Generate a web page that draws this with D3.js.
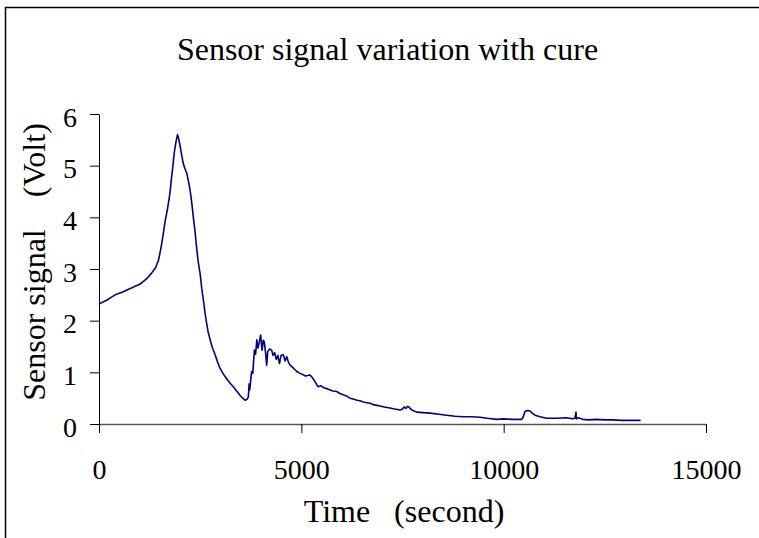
<!DOCTYPE html>
<html>
<head>
<meta charset="utf-8">
<script src="https://cdn.jsdelivr.net/npm/d3@7"></script>
<style>
  body { margin: 0; background: #fff; }
  text { font-family: "Liberation Serif", "Times New Roman", serif; fill: #000; }
</style>
</head>
<body>
<script>
// readings taken off the trace (seconds, volts)
var time = [0, 100, 200, 300, 400, 500, 600, 700, 800, 900, 1000, 1100, 1200, 1300, 1400, 1470, 1530, 1590, 1640, 1690,
  1750, 1790, 1820, 1860, 1900, 1940, 1960, 2000, 2040, 2080, 2120, 2170, 2210, 2250, 2290, 2330, 2370, 2410, 2450, 2500,
  2540, 2580, 2620, 2660, 2700, 2750, 2800, 2870, 2930, 2990, 3070, 3150, 3230, 3320, 3400, 3480, 3550, 3610, 3660, 3690,
  3710, 3725, 3770, 3800, 3840, 3870, 3900, 3930, 3960, 3995, 4030, 4060, 4085, 4120, 4143, 4170, 4210, 4267, 4300, 4340,
  4380, 4420, 4460, 4500, 4554, 4600, 4640, 4680, 4720, 4780, 4843, 4900, 4967, 5030, 5100, 5160, 5214, 5270, 5330, 5380,
  5419, 5480, 5560, 5640, 5708, 5780, 5873, 5955, 6050, 6120, 6203, 6300, 6380, 6450, 6550, 6620, 6697, 6800, 6880, 6944,
  7050, 7120, 7191, 7300, 7380, 7438, 7500, 7540, 7580, 7620, 7660, 7700, 7760, 7850, 8000, 8180, 8400, 8592, 8800, 9004,
  9200, 9415, 9600, 9827, 10000, 10200, 10445, 10490, 10527, 10590, 10651, 10710, 10774, 10900, 11062, 11300, 11550, 11700, 11760, 11787,
  11800, 11850, 11950, 12100, 12300, 12500, 12700, 12900, 13100, 13385];
var signal = [2.32, 2.36, 2.40, 2.45, 2.50, 2.53, 2.56, 2.60, 2.63, 2.67, 2.70, 2.76, 2.83, 2.92, 3.03, 3.17, 3.40, 3.69, 3.95, 4.15,
  4.45, 4.75, 4.95, 5.25, 5.45, 5.60, 5.55, 5.40, 5.22, 5.05, 4.95, 4.85, 4.70, 4.53, 4.30, 4.01, 3.75, 3.43, 3.15, 2.90,
  2.62, 2.40, 2.15, 1.95, 1.77, 1.62, 1.48, 1.34, 1.20, 1.08, 0.97, 0.88, 0.80, 0.72, 0.64, 0.56, 0.50, 0.46, 0.48, 0.52,
  0.78, 0.66, 1.01, 0.98, 1.43, 1.35, 1.63, 1.47, 1.58, 1.72, 1.43, 1.62, 1.59, 1.35, 1.14, 1.40, 1.45, 1.43, 1.33, 1.38,
  1.25, 1.33, 1.17, 1.33, 1.34, 1.22, 1.30, 1.20, 1.14, 1.10, 1.05, 1.01, 0.98, 0.96, 0.93, 0.94, 0.95, 0.90, 0.83, 0.76,
  0.72, 0.74, 0.70, 0.68, 0.66, 0.64, 0.63, 0.59, 0.56, 0.54, 0.50, 0.48, 0.46, 0.45, 0.42, 0.41, 0.40, 0.37, 0.36, 0.35,
  0.33, 0.32, 0.31, 0.29, 0.28, 0.27, 0.29, 0.33, 0.30, 0.34, 0.33, 0.29, 0.26, 0.23, 0.22, 0.21, 0.19, 0.17, 0.15, 0.14,
  0.14, 0.13, 0.11, 0.09, 0.10, 0.09, 0.09, 0.15, 0.24, 0.26, 0.25, 0.21, 0.17, 0.14, 0.11, 0.11, 0.12, 0.10, 0.11, 0.23,
  0.10, 0.12, 0.09, 0.08, 0.09, 0.08, 0.08, 0.07, 0.07, 0.07];

var xTicks = [0, 5000, 10000, 15000];
var yTicks = [0, 1, 2, 3, 4, 5, 6];

var width = 759, height = 538;
var plot = {left: 99, right: 706, top: 114, bottom: 424};

var svg = d3.select("body").append("svg")
    .attr("width", width)
    .attr("height", height);

// chart area border (runs off the right and bottom)
svg.append("rect")
    .attr("x", 5.5).attr("y", 7.5)
    .attr("width", 900).attr("height", 700)
    .attr("fill", "none")
    .attr("stroke", "#000")
    .attr("stroke-width", 1.5);

var x = d3.scaleLinear().domain([0, 15000]).range([plot.left, plot.right]);
var y = d3.scaleLinear().domain([0, 6]).range([plot.bottom, plot.top]);

var xAxis = svg.append("g")
    .attr("transform", "translate(0," + plot.bottom + ")")
    .call(d3.axisBottom(x).tickValues(xTicks).tickFormat(d3.format("d"))
      .tickSize(9).tickSizeOuter(0).tickPadding(26));

var yAxis = svg.append("g")
    .attr("transform", "translate(" + plot.left + ",0)")
    .call(d3.axisLeft(y).tickValues(yTicks).tickFormat(d3.format("d"))
      .tickSize(9).tickSizeOuter(0).tickPadding(13));

svg.selectAll(".tick text")
    .style("font-family", '"Liberation Serif", "Times New Roman", serif')
    .style("font-size", "28px");
yAxis.selectAll(".tick text").attr("dy", "0.43em");
svg.selectAll(".domain, .tick line").attr("stroke", "#000");
xAxis.select(".domain").attr("stroke", "#555").attr("stroke-width", 1.4);

var line = d3.line()
    .x(function(d, i) { return x(time[i]); })
    .y(function(d) { return y(d); });

svg.append("path")
    .datum(signal)
    .attr("d", line)
    .attr("fill", "none")
    .attr("stroke", "#000080")
    .attr("stroke-width", 1.6)
    .attr("stroke-linejoin", "round");

svg.append("text")
    .attr("x", 387.5).attr("y", 60)
    .attr("text-anchor", "middle")
    .style("font-size", "32px")
    .text("Sensor signal variation with cure");

svg.append("text")
    .attr("x", 404).attr("y", 522)
    .attr("text-anchor", "middle")
    .style("font-size", "32px")
    .style("white-space", "pre")
    .text("Time   (second)");

svg.append("text")
    .attr("transform", "translate(45,262) rotate(-90)")
    .attr("text-anchor", "middle")
    .style("font-size", "32px")
    .style("white-space", "pre")
    .text("Sensor signal    (Volt)");
</script>
</body>
</html>
